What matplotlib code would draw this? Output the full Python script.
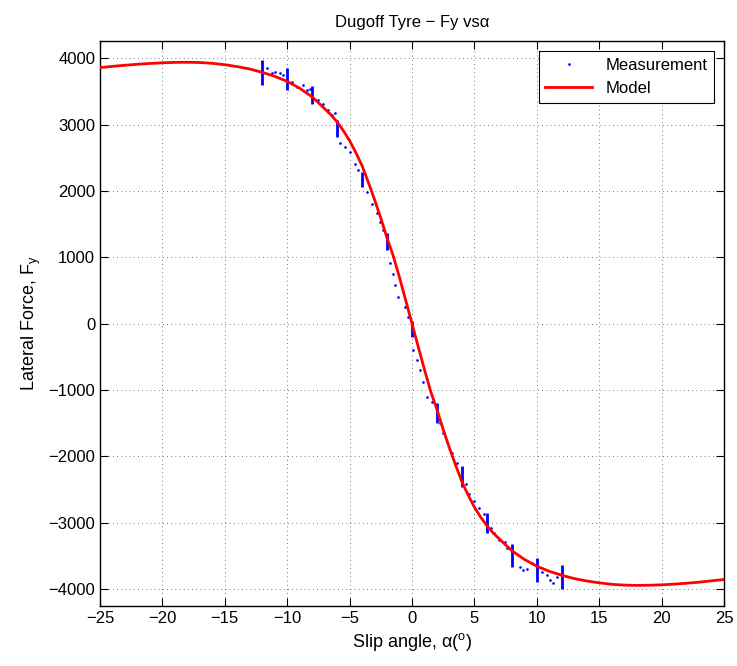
import numpy as np
import matplotlib
matplotlib.use("Agg")
import matplotlib.pyplot as plt

plt.rcParams['font.family'] = ['Liberation Sans', 'DejaVu Sans']
plt.rcParams['font.size'] = 12

# model curve (slip angle in deg, lateral force)
model_x = [-25, -24, -23, -22, -21, -20, -19, -18, -17, -16, -15, -14, -13, -12, -11,
           -10, -9, -8, -7.5, -7, -6.5, -6, -5.5, -5, -4.5, -4, -3.5, -3, -2.5, -2,
           -1.5, -1, -0.5, 0, 0.5, 1, 1.5, 2, 2.5, 3, 3.5, 4, 4.5, 5, 5.5, 6, 6.5,
           7, 7.5, 8, 9, 10, 11, 12, 13, 14, 15, 16, 17, 18, 19, 20, 21, 22, 23, 24, 25]
model_y = [3860, 3878, 3895, 3910, 3922, 3932, 3938, 3940, 3936, 3924, 3903, 3874, 3838, 3788, 3728,
           3652, 3548, 3418, 3330, 3240, 3148, 3040, 2908, 2758, 2578, 2380, 2130, 1870, 1590, 1290,
           1020, 695, 348, 0, -350, -695, -1025, -1295, -1595, -1875, -2135, -2385, -2585, -2765, -2915, -3045, -3155,
           -3245, -3335, -3422, -3552, -3656, -3732, -3792, -3842, -3878, -3906, -3928, -3940, -3945, -3942, -3936, -3926, -3912, -3896, -3876, -3856]

# measurement clusters at the test slip angles (low/high of the spread)
clus_x = [-12, -10, -8, -6, -4, -2, 0, 2, 4, 6, 8, 10, 12]
clus_lo = [3594, 3529, 3308, 2806, 2062, 1107, -208, -1500, -2460, -3160, -3665, -3891, -4006]
clus_hi = [3981, 3846, 3579, 3067, 2288, 1360, 40, -1198, -2150, -2860, -3323, -3539, -3640]

# scattered measurement samples between the test angles
meas_x = [-11.64, -11.24, -10.98, -10.58, -10.31, -9.64, -9.24, -8.71, -8.44, -8.17,
          -7.5, -7.1, -6.7, -6.43, -6.17, -5.76, -5.36, -4.96, -4.56, -4.29,
          -3.62, -3.22, -2.82, -2.56, -2.29, -1.76, -1.5, -1.36, -1.1, -0.56, -0.3,
          0.1, 0.38, 0.64, 0.91, 1.18, 1.58, 2.24, 2.51, 2.78, 3.2, 3.6,
          4.3, 4.6, 5.0, 5.4, 5.8, 6.3, 6.6, 7.0, 7.45, 7.59, 7.8,
          8.65, 8.92, 9.19, 9.59, 10.39, 10.79, 11.06, 11.33, 11.6]
meas_y = [3846, 3771, 3795, 3771, 3745, 3644, 3569, 3594, 3519, 3544,
          3368, 3318, 3217, 3142, 3168, 2716, 2665, 2589, 2414, 2313,
          1986, 1811, 1661, 1534, 1409, 907, 756, 580, 404, 253, 102,
          -399, -550, -700, -877, -1103, -1178, -1504, -1655, -1781, -1950, -2100,
          -2420, -2560, -2680, -2780, -2870, -3080, -3150, -3260, -3288, -3388, -3380,
          -3665, -3705, -3690, -3614, -3740, -3790, -3866, -3915, -3815]

fig = plt.figure(figsize=(7.37, 6.66), dpi=100)
ax = fig.add_axes([0.1357, 0.0901, 0.9824 - 0.1357, 0.9384 - 0.0901])

ax.vlines(clus_x, clus_lo, clus_hi, color='blue', linewidth=2, zorder=2)
ax.plot(meas_x, meas_y, '.', color='blue', markersize=1.8, zorder=2, label='Measurement')
ax.plot(model_x, model_y, '-', color='red', linewidth=2, zorder=3, label='Model')

ax.set_xlim(-25, 25)
ax.set_ylim(-4255, 4260)
ax.set_xticks(np.arange(-25, 26, 5))
ax.set_yticks(np.arange(-4000, 4001, 1000))
ax.set_xticklabels([('\u2212%d' % -t) if t < 0 else '%d' % t for t in range(-25, 26, 5)])
ax.set_yticklabels([('\u2212%d' % -t) if t < 0 else '%d' % t for t in range(-4000, 4001, 1000)])
ax.grid(True, linestyle=(0, (1, 4)), color='black', linewidth=0.6, alpha=0.7)
ax.tick_params(direction='in', length=6, top=True, right=True, width=0.8)
for s in ax.spines.values():
    s.set_linewidth(1.0)

ax.set_title('Dugoff Tyre \u2212 Fy vs\u03b1', fontsize=12, pad=10)
ax.set_xlabel('Slip angle, \u03b1($\\mathregular{^o}$)', fontsize=13)
ax.set_ylabel('Lateral Force, F$\\mathregular{_y}$', fontsize=13)

leg = ax.legend(loc='upper right', fancybox=False, edgecolor='black', framealpha=1,
                fontsize=12, markerscale=1.0, borderaxespad=0.6, handlelength=2.8)
leg.get_frame().set_linewidth(0.8)

fig.savefig('out.png', dpi=100)
